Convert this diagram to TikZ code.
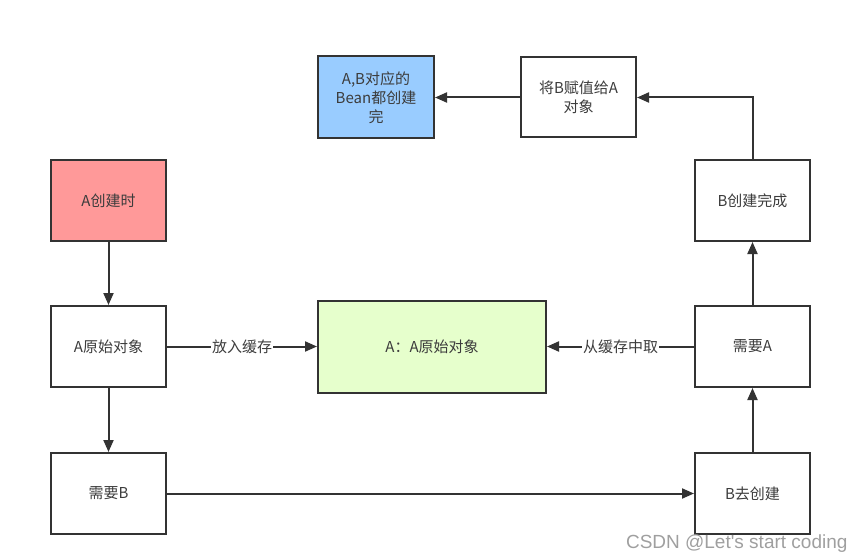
\documentclass[tikz,border=0pt]{standalone}
\usepackage{fontspec}
\setmainfont{Noto Sans CJK SC}
\newfontfamily\markfont{Liberation Sans}
\usepackage{tikz}
\usetikzlibrary{arrows.meta,positioning,calc}
\definecolor{boxline}{RGB}{51,51,51}
\definecolor{boxtext}{RGB}{60,60,60}
\definecolor{startred}{RGB}{255,153,153}
\definecolor{doneblue}{RGB}{153,204,255}
\definecolor{cachegreen}{RGB}{230,255,204}

\begin{document}
\begin{tikzpicture}[x=1pt, y=-1pt, >={Triangle[length=12pt, width=10pt]},
    stepbox/.style={draw=boxline, line width=2pt, fill=white,
      minimum width=115pt, minimum height=81pt, inner sep=2pt,
      text width=105pt, align=center, text=boxtext, font=\fontsize{15}{19}\selectfont},
    flow/.style={->, draw=boxline, line width=2pt},
    onlabel/.style={fill=white, text=boxtext, inner sep=1pt, font=\fontsize{15}{19}\selectfont}]
    \useasboundingbox (0,0) rectangle (865,559);
    % --- left column: A ---
    \node[stepbox, fill=startred] (astart) at (108.5,200.5) {A创建时};
    \node[stepbox] (araw) at (108.5,346.5) {A原始对象};
    \node[stepbox] (needb) at (108.5,493.5) {需要B};
    % --- cache in the middle ---
    \node[stepbox, fill=cachegreen, minimum width=228pt, minimum height=92pt,
          text width=210pt] (cache) at (432,346.5) {A：A原始对象};
    % --- right column: B ---
    \node[stepbox] (bmake) at (752.5,493.5) {B去创建};
    \node[stepbox] (needa) at (752.5,346.5) {需要A};
    \node[stepbox] (bdone) at (752.5,200.5) {B创建完成};
    % --- top row ---
    \node[stepbox, minimum height=80pt, text width=96pt] (assign) at (578.5,97.5) {将B赋值给A 对象};
    \node[stepbox, fill=doneblue, minimum width=116pt, minimum height=82pt,
          text width=94pt] (alldone) at (376,97.5) {A,B对应的\\Bean都创建\\完};
    % --- connectors ---
    \draw[flow] (astart) -- (araw);
    \draw[flow] (araw) -- (needb);
    \draw[flow] (araw) -- node[onlabel] {放入缓存} (cache);
    \draw[flow] (needb) -- (bmake);
    \draw[flow] (bmake) -- (needa);
    \draw[flow] (needa) -- node[onlabel] {从缓存中取} (cache);
    \draw[flow] (needa) -- (bdone);
    \draw[flow] (bdone.north) |- (assign.east);
    \draw[flow] (assign) -- (alldone);
    % --- watermark ---
    \node[text=gray!75, font=\markfont\fontsize{19}{22}\selectfont, anchor=base east] (mark)
      at (851,548) {CSDN @Let's start coding};
\end{tikzpicture}
\end{document}
